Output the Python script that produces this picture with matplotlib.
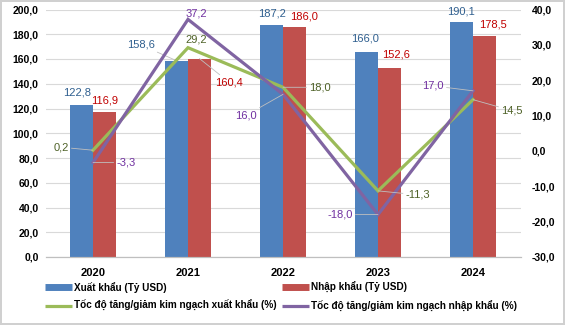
import numpy as np
import matplotlib.pyplot as plt
from matplotlib.lines import Line2D
from matplotlib.ticker import FuncFormatter

plt.rcParams['font.family'] = ['Liberation Sans', 'DejaVu Sans']

# Data
years = ['2020', '2021', '2022', '2023', '2024']
export_val = [122.8, 158.6, 187.2, 166.0, 190.1]
import_val = [116.9, 160.4, 186.0, 152.6, 178.5]
export_growth = [0.2, 29.2, 18.0, -11.3, 14.5]
import_growth = [-3.3, 37.2, 16.0, -18.0, 17.0]

c_exp, c_imp = '#4F81BD', '#C0504D'
c_gexp, c_gimp = '#9BBB59', '#8064A2'
t_exp, t_imp, t_gexp, t_gimp = '#2F5F8F', '#C00000', '#4F6228', '#7030A0'

fig = plt.figure(figsize=(5.65, 3.25), dpi=100)
fig.patch.set_edgecolor('#D0D0D0')
fig.patch.set_linewidth(1.5)
ax = fig.add_axes([45.5 / 565, 1 - 257 / 325, 475 / 565, 247.5 / 325])
ax2 = ax.twinx()

x = np.arange(len(years))
w = 0.24
ax.bar(x - w / 2, export_val, w, color=c_exp, zorder=2)
ax.bar(x + w / 2, import_val, w, color=c_imp, zorder=2)

ax2.plot(x, export_growth, color=c_gexp, lw=2.3, solid_joinstyle='miter', zorder=3)
ax2.plot(x, import_growth, color=c_gimp, lw=2.3, solid_joinstyle='miter', zorder=4)

ax.set_xlim(-0.5, len(years) - 0.5)
ax.set_ylim(0, 200)
ax.set_yticks(np.arange(0, 201, 20))
ax2.set_ylim(-30, 40)
ax2.set_yticks(np.arange(-30, 41, 10))

comma = FuncFormatter(lambda v, p: f'{v:.1f}'.replace('.', ','))
ax.yaxis.set_major_formatter(comma)
ax2.yaxis.set_major_formatter(comma)

ax.set_xticks(x)
ax.set_xticklabels(years, fontsize=8, fontweight='bold')
ax.tick_params(axis='x', length=0, pad=8)
ax.tick_params(axis='y', length=0, pad=5, labelsize=7.5)
ax2.tick_params(axis='y', length=0, pad=8, labelsize=7.5)
for lab in ax.get_yticklabels() + ax2.get_yticklabels():
    lab.set_fontweight('bold')
for lab in ax2.get_yticklabels():
    lab.set_horizontalalignment('left')

ax.grid(axis='y', color='#D9D9D9', lw=0.8, zorder=0)
ax.set_axisbelow(True)
for a in (ax, ax2):
    for s in ('top', 'left', 'right'):
        a.spines[s].set_visible(False)
    a.spines['bottom'].set_color('#BFBFBF')

leader = dict(arrowstyle='-', color='#BFBFBF', lw=0.6, shrinkA=0, shrinkB=0)


def label(a, xv, yv, dx, dy, color, use_leader=False):
    a.annotate(f'{yv:.1f}'.replace('.', ','), (xv, yv), xytext=(dx, dy),
               textcoords='offset pixels', ha='center', va='center',
               fontsize=8, color=color, zorder=6,
               arrowprops=leader if use_leader else None)


# label offsets in pixels (dx, dy, leader line)
off_exp = [(-5, 13, False), (-36, 16, True), (0, 12, False), (-2, 13, False), (-1, 10, False)]
off_imp = [(0, 12, False), (30, -24, True), (10, 10, False), (7, 14, False), (9, 12, False)]
off_gexp = [(-32, 3, True), (8, 8, False), (37, 0, True), (40, -4, True), (39, -11, True)]
off_gimp = [(33, 0, True), (8, 6, False), (-37, -21, True), (-38, 0, True), (-40, 5, True)]

for i in range(len(years)):
    label(ax, x[i] - w / 2, export_val[i], *off_exp[i][:2], t_exp, off_exp[i][2])
    label(ax, x[i] + w / 2, import_val[i], *off_imp[i][:2], t_imp, off_imp[i][2])
    label(ax2, x[i], export_growth[i], *off_gexp[i][:2], t_gexp, off_gexp[i][2])
    label(ax2, x[i], import_growth[i], *off_gimp[i][:2], t_gimp, off_gimp[i][2])

handles = [
    Line2D([], [], color=c_exp, lw=5, solid_capstyle='butt'),
    Line2D([], [], color=c_gexp, lw=2.3, solid_capstyle='butt'),
    Line2D([], [], color=c_imp, lw=5, solid_capstyle='butt'),
    Line2D([], [], color=c_gimp, lw=2.3, solid_capstyle='butt'),
]
names = ['Xuất khẩu (Tỷ USD)', 'Tốc độ tăng/giảm kim ngạch xuất khẩu (%)',
         'Nhập khẩu (Tỷ USD)', 'Tốc độ tăng/giảm kim ngạch nhập khẩu (%)']
fig.legend(handles, names, ncol=2, loc='upper left',
           bbox_to_anchor=(45 / 565, 1 - 282 / 325), frameon=False,
           prop={'size': 7.2, 'weight': 'bold'}, handlelength=2.7,
           handletextpad=0.15, columnspacing=0.6, labelspacing=0.75,
           borderpad=0, borderaxespad=0)

fig.savefig('out.png', dpi=100)
